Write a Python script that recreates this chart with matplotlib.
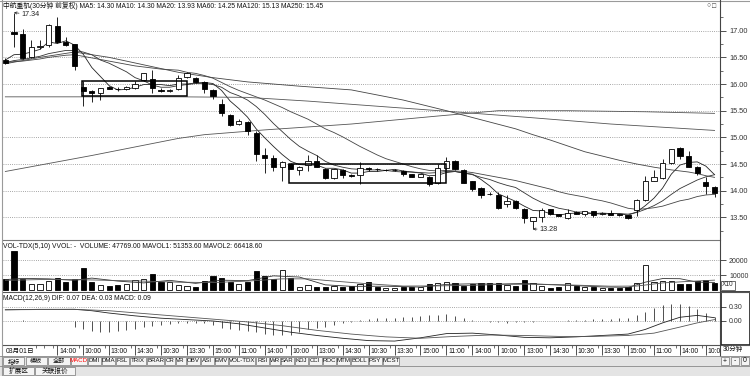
import numpy as np
import matplotlib
matplotlib.use("Agg")
import matplotlib.pyplot as plt
from matplotlib.patches import Rectangle
from matplotlib.lines import Line2D

plt.rcParams["font.family"] = ["Liberation Sans", "Noto Sans CJK SC"]

# ---- 30 minute bars ----
opens = [16.45, 16.97, 16.94, 16.51, 16.70, 16.73, 17.09, 16.79, 16.75, 15.95,
         15.86, 15.83, 15.95, 15.91, 15.91, 15.93, 16.08, 16.09, 15.89, 15.87,
         15.90, 16.14, 16.11, 16.03, 15.89, 15.63, 15.42, 15.25, 15.29, 15.09,
         14.67, 14.61, 14.45, 14.50, 14.39, 14.48, 14.56, 14.40, 14.24, 14.39,
         14.29, 14.30, 14.42, 14.41, 14.38, 14.38, 14.37, 14.31, 14.26, 14.26,
         14.14, 14.42, 14.56, 14.39, 14.18, 14.05, 13.94, 13.92, 13.75, 13.81,
         13.66, 13.44, 13.50, 13.65, 13.56, 13.48, 13.60, 13.57, 13.61, 13.56,
         13.59, 13.56, 13.54, 13.64, 13.83, 14.19, 14.23, 14.51, 14.80, 14.65,
         14.44, 14.17, 14.07]
highs = [16.48, 17.34, 17.03, 16.83, 16.83, 17.12, 17.25, 16.88, 16.76, 16.06,
         15.89, 15.93, 15.97, 15.95, 15.97, 16.05, 16.21, 16.26, 15.92, 15.91,
         16.17, 16.23, 16.13, 16.05, 15.91, 15.71, 15.44, 15.34, 15.31, 15.11,
         14.80, 14.66, 14.56, 14.52, 14.47, 14.66, 14.66, 14.42, 14.41, 14.40,
         14.31, 14.53, 14.44, 14.43, 14.40, 14.40, 14.38, 14.32, 14.32, 14.27,
         14.50, 14.64, 14.57, 14.40, 14.19, 14.06, 13.97, 13.97, 13.92, 13.83,
         13.67, 13.51, 13.68, 13.66, 13.57, 13.66, 13.61, 13.62, 13.62, 13.60,
         13.63, 13.57, 13.55, 13.84, 14.27, 14.39, 14.59, 14.79, 14.81, 14.75,
         14.46, 14.26, 14.08]
lows = [16.37, 16.70, 16.47, 16.48, 16.65, 16.70, 16.77, 16.72, 16.26, 15.58,
        15.67, 15.70, 15.90, 15.87, 15.89, 15.91, 16.05, 15.83, 15.85, 15.85,
        15.88, 16.12, 16.02, 15.83, 15.71, 15.40, 15.21, 15.23, 15.04, 14.56,
        14.34, 14.36, 14.19, 14.40, 14.30, 14.37, 14.44, 14.22, 14.22, 14.23,
        14.26, 14.13, 14.36, 14.37, 14.36, 14.36, 14.28, 14.25, 14.25, 14.08,
        14.12, 14.41, 14.39, 14.14, 14.00, 13.86, 13.92, 13.66, 13.70, 13.66,
        13.39, 13.28, 13.42, 13.55, 13.52, 13.47, 13.56, 13.52, 13.50, 13.54,
        13.54, 13.53, 13.47, 13.52, 13.80, 14.18, 14.22, 14.50, 14.60, 14.44,
        14.30, 13.93, 13.89]
closes = [16.40, 16.93, 16.48, 16.70, 16.72, 17.11, 16.78, 16.73, 16.33, 15.86,
          15.84, 15.92, 15.91, 15.90, 15.95, 16.00, 16.20, 15.92, 15.87, 15.88,
          16.11, 16.20, 16.04, 15.90, 15.78, 15.46, 15.23, 15.31, 15.11, 14.69,
          14.61, 14.45, 14.53, 14.41, 14.45, 14.56, 14.45, 14.24, 14.40, 14.29,
          14.28, 14.42, 14.40, 14.40, 14.38, 14.38, 14.31, 14.26, 14.31, 14.13,
          14.42, 14.56, 14.40, 14.15, 14.03, 13.92, 13.93, 13.67, 13.81, 13.67,
          13.48, 13.51, 13.64, 13.56, 13.53, 13.59, 13.57, 13.61, 13.55, 13.59,
          13.55, 13.55, 13.48, 13.83, 14.19, 14.25, 14.51, 14.78, 14.65, 14.45,
          14.33, 14.09, 13.96]

# moving average lines as drawn
ma5 = [16.45, 16.55, 16.56, 16.60, 16.65, 16.79, 16.76, 16.81, 16.73, 16.56,
       16.31, 16.14, 15.97, 15.89, 15.90, 15.94, 15.99, 15.99, 15.99, 15.97,
       16.00, 16.00, 16.02, 16.03, 16.01, 15.88, 15.68, 15.54, 15.38, 15.16,
       14.99, 14.83, 14.68, 14.55, 14.49, 14.48, 14.48, 14.42, 14.42, 14.39,
       14.33, 14.33, 14.36, 14.36, 14.38, 14.40, 14.37, 14.35, 14.33, 14.28,
       14.29, 14.34, 14.36, 14.33, 14.31, 14.21, 14.09, 13.94, 13.87, 13.80,
       13.71, 13.63, 13.62, 13.57, 13.54, 13.57, 13.58, 13.57, 13.57, 13.58,
       13.57, 13.57, 13.54, 13.60, 13.72, 13.86, 14.05, 14.31, 14.48, 14.53,
       14.54, 14.46, 14.30]
ma10 = [16.40, 16.44, 16.46, 16.49, 16.52, 16.57, 16.60, 16.63, 16.63, 16.60,
        16.55, 16.45, 16.39, 16.31, 16.23, 16.12, 16.06, 15.98, 15.94, 15.94,
        15.97, 15.99, 16.01, 16.01, 15.99, 15.94, 15.84, 15.78, 15.70, 15.58,
        15.43, 15.26, 15.11, 14.96, 14.83, 14.74, 14.66, 14.55, 14.48, 14.44,
        14.41, 14.40, 14.39, 14.39, 14.38, 14.36, 14.35, 14.35, 14.34, 14.33,
        14.34, 14.36, 14.36, 14.33, 14.30, 14.25, 14.21, 14.15, 14.10, 14.06,
        13.96, 13.86, 13.78, 13.72, 13.67, 13.64, 13.60, 13.60, 13.57, 13.56,
        13.57, 13.57, 13.56, 13.59, 13.65, 13.72, 13.81, 13.93, 14.04, 14.12,
        14.20, 14.26, 14.30]
ma20 = [16.40, 16.42, 16.43, 16.45, 16.47, 16.50, 16.52, 16.54, 16.55, 16.52,
        16.49, 16.46, 16.43, 16.40, 16.37, 16.34, 16.32, 16.30, 16.28, 16.27,
        16.26, 16.22, 16.20, 16.16, 16.11, 16.03, 15.95, 15.88, 15.82, 15.76,
        15.70, 15.63, 15.56, 15.48, 15.41, 15.34, 15.25, 15.16, 15.09, 15.01,
        14.92, 14.83, 14.75, 14.67, 14.60, 14.55, 14.50, 14.45, 14.41, 14.38,
        14.37, 14.38, 14.37, 14.36, 14.34, 14.31, 14.28, 14.25, 14.22, 14.19,
        14.15, 14.11, 14.07, 14.03, 13.98, 13.94, 13.91, 13.88, 13.84, 13.81,
        13.77, 13.72, 13.67, 13.65, 13.66, 13.68, 13.71, 13.76, 13.81, 13.84,
        13.89, 13.92, 13.93]
ma60_idx = [0, 4, 8, 12, 16, 20, 24, 28, 34, 40, 46, 51, 55, 59, 61, 63, 65,
            67, 69, 71, 73, 75, 77, 79, 80, 81, 82]
ma60_val = [16.38, 16.50, 16.60, 16.50, 16.36, 16.22, 16.12, 16.04, 15.96,
            15.89, 15.70, 15.50, 15.33, 15.16, 15.05, 14.95, 14.84, 14.73,
            14.65, 14.57, 14.50, 14.44, 14.39, 14.35, 14.32, 14.28, 14.25]
ma120_idx = [0, 10, 20, 28, 35, 45, 51, 60, 70, 82]
ma120_val = [15.76, 15.76, 15.76, 15.75, 15.68, 15.56, 15.49, 15.38, 15.25, 15.13]
ma250_idx = [0, 10, 20, 23, 30, 40, 50, 57, 65, 74, 82]
ma250_val = [14.36, 14.66, 14.98, 15.05, 15.14, 15.25, 15.40, 15.50, 15.50,
             15.48, 15.45]

# volume (hands / 10)
volume = [7333, 26000, 7556, 3778, 3778, 6000, 8222, 5556, 7556, 14444,
          5111, 3333, 2889, 3333, 3778, 6667, 7333, 10444, 5556, 5111,
          3333, 2889, 2222, 6000, 9556, 8222, 5556, 3778, 5556, 12889,
          9556, 7333, 13333, 8222, 2222, 3333, 2222, 2222, 2889, 2222,
          2889, 3778, 5556, 2222, 1556, 1556, 2222, 2222, 2222, 3778,
          4444, 5111, 4444, 2889, 3778, 4444, 4444, 4444, 3333, 2889,
          6667, 4444, 2889, 1556, 2222, 4444, 2889, 2222, 2222, 1556,
          1556, 1556, 2222, 4444, 16667, 5556, 6000, 6000, 3778, 3778,
          6000, 6667, 4777]
mavol1_idx = [0, 2, 5, 8, 10, 13, 16, 19, 22, 25, 28, 31, 34, 37, 40, 44, 48,
              51, 54, 57, 60, 63, 66, 69, 72, 74, 76, 78, 80, 82]
mavol1_val = [7000, 7800, 7500, 6500, 8000, 6000, 4800, 6500, 4500, 6600,
              6300, 9500, 8700, 3500, 2500, 2600, 2000, 3800, 4200, 4000,
              4400, 3600, 3000, 2100, 1800, 5300, 7700, 7600, 5300, 5135]
mavol2_idx = [0, 4, 8, 12, 16, 20, 24, 28, 32, 35, 38, 42, 46, 50, 54, 58, 62,
              66, 70, 73, 76, 79, 82]
mavol2_val = [6500, 7000, 7000, 6500, 6000, 5300, 5000, 6000, 7500, 7500,
              6000, 4200, 2700, 2800, 3200, 3900, 3900, 3300, 2600, 2700,
              4800, 5800, 6642]

# MACD(12,26,9)
dif_idx = [0, 4, 8, 10, 12, 15, 18, 21, 24, 27, 30, 33, 36, 39, 42, 45, 48,
           51, 54, 57, 60, 63, 66, 69, 72, 74, 76, 78, 80, 82]
dif_val = [0.24, 0.25, 0.25, 0.22, 0.17, 0.11, 0.06, 0.03, 0.00, -0.06,
           -0.15, -0.24, -0.31, -0.37, -0.42, -0.43, -0.36, -0.27, -0.26,
           -0.30, -0.35, -0.36, -0.34, -0.31, -0.28, -0.18, -0.04, 0.08,
           0.12, 0.07]
dea_idx = [0, 8, 12, 16, 20, 24, 28, 32, 36, 40, 44, 48, 52, 56, 60, 64, 68,
           72, 75, 78, 80, 82]
dea_val = [0.24, 0.25, 0.22, 0.16, 0.10, 0.04, -0.02, -0.10, -0.20, -0.28,
           -0.34, -0.37, -0.33, -0.30, -0.31, -0.33, -0.33, -0.31, -0.26,
           -0.13, -0.04, 0.03]
macd_bar = [0.01, 0.01, 0.02, 0.01, 0.01, 0.01, 0.00, -0.01, -0.12, -0.17,
            -0.21, -0.24, -0.24, -0.22, -0.19, -0.17, -0.12, -0.10, -0.08, -0.07,
            -0.05, -0.04, -0.04, -0.05, -0.08, -0.14, -0.17, -0.19, -0.21, -0.24,
            -0.27, -0.30, -0.30, -0.29, -0.24, -0.17, -0.15, -0.12, -0.08, -0.05,
            -0.02, 0.02, 0.04, 0.06, 0.07, 0.07, 0.08, 0.08, 0.10, 0.12,
            0.13, 0.14, 0.10, 0.06, 0.03, 0.00, -0.02, -0.03, -0.04, -0.03,
            -0.03, -0.02, -0.01, 0.00, 0.01, 0.02, 0.02, 0.03, 0.04, 0.04,
            0.05, 0.06, 0.06, 0.12, 0.20, 0.28, 0.34, 0.37, 0.36, 0.32,
            0.25, 0.17, 0.09]

# hand drawn boxes on the chart: (x from, x to, low, high)
boxes = [(8.87, 21.0, 15.78, 16.06), (32.8, 50.9, 14.15, 14.50)]

time_label_idx = list(range(6, 82, 3))
time_labels = ["14:00", "10:00", "13:00", "14:30", "10:30", "13:30", "15:00",
               "11:00", "14:00", "10:00", "13:00", "14:30", "10:30", "13:30",
               "15:00", "11:00", "14:00", "10:00", "13:00", "14:30", "10:30",
               "13:30", "15:00", "11:00", "14:00", "10:00"]
buttons = ["指标", "模板", "全部", "MACD", "DMI", "DMA", "FSL", "TRIX", "BRAR",
           "CR", "VR", "OBV", "ASI", "EMV", "VOL-TDX", "RSI", "WR", "SAR",
           "KDJ", "CCI", "ROC", "MTM", "BOLL", "PSY", "MCST"]

W, H = 750, 376
n = len(closes)
xs = np.arange(n)
XL = (-0.27, 82.63)
up = [c >= o for o, c in zip(opens, closes)]

fig = plt.figure(figsize=(7.5, 3.76), dpi=100)
fig.patch.set_facecolor("white")


def px_axes(x0, y0, x1, y1):
    ax = fig.add_axes([x0 / W, 1 - y1 / H, (x1 - x0) / W, (y1 - y0) / H])
    ax.set_xlim(XL)
    for s in ax.spines.values():
        s.set_visible(False)
    ax.set_xticks([])
    ax.patch.set_alpha(0)
    return ax


def ftext(x, y, s, **kw):
    kw.setdefault("fontsize", 5.0)
    kw.setdefault("va", "center")
    return fig.text(x / W, 1 - y / H, s, **kw)


def fline(x0, y0, x1, y1, **kw):
    fig.add_artist(Line2D([x0 / W, x1 / W], [1 - y0 / H, 1 - y1 / H], **kw))


def right_ticks(ax, major, labels, minor=None, size=5.3):
    ax.yaxis.tick_right()
    ax.set_yticks(major)
    ax.set_yticklabels(labels)
    if minor is not None:
        ax.set_yticks(minor, minor=True)
    ax.tick_params(axis="y", which="major", direction="out", length=4,
                   width=0.6, pad=2.5, labelsize=size, colors="#333")
    ax.tick_params(axis="y", which="minor", direction="out", length=2,
                   width=0.5, colors="#333")


grid_kw = dict(color="#8a8a8a", lw=0.6, ls=(0, (1, 1.6)), zorder=0)

# ---- price panel ----
ax = px_axes(3, 0, 720, 240)
ax.set_ylim(13.075, 17.576)
pticks = np.arange(13.5, 17.01, 0.5)
right_ticks(ax, pticks, ["%.2f" % v for v in pticks],
            np.arange(13.25, 17.3, 0.25))
for p in pticks:
    ax.axhline(p, **grid_kw)

ax.plot(xs, ma5, color="#222", lw=0.6, zorder=2)
ax.plot(xs, ma10, color="#333", lw=0.6, zorder=2)
ax.plot(xs, ma20, color="#444", lw=0.6, zorder=2)
ax.plot(ma60_idx, ma60_val, color="#444", lw=0.6, zorder=2)
ax.plot(ma120_idx, ma120_val, color="#555", lw=0.6, zorder=2)
ax.plot(ma250_idx, ma250_val, color="#555", lw=0.6, zorder=2)

bw = 0.6
for i in range(n):
    ax.vlines(i, lows[i], highs[i], color="black", lw=0.6, zorder=3)
    lo, hi = min(opens[i], closes[i]), max(opens[i], closes[i])
    ax.add_patch(Rectangle((i - bw / 2, lo), bw, max(hi - lo, 0.004),
                           facecolor="white" if up[i] else "black",
                           edgecolor="black", lw=0.6, zorder=4))

for x0, x1, lo, hi in boxes:
    ax.add_patch(Rectangle((x0, lo), x1 - x0, hi - lo, fill=False,
                           edgecolor="black", lw=1.1, zorder=5))

ih = int(np.argmax(highs))
ax.annotate("%.2f" % highs[ih], xy=(ih, highs[ih]), xytext=(ih + 0.9, highs[ih] - 0.04),
            fontsize=5.2, va="center", color="#222",
            arrowprops=dict(arrowstyle="->", lw=0.5, color="#222",
                            shrinkA=0, shrinkB=0, mutation_scale=4))
il = int(np.argmin(lows))
ax.annotate("%.2f" % lows[il], xy=(il, lows[il]), xytext=(il + 0.8, lows[il]),
            fontsize=5.2, va="center", color="#222",
            arrowprops=dict(arrowstyle="->", lw=0.5, color="#222",
                            shrinkA=0, shrinkB=0, mutation_scale=4))

ftext(3, 6, "中航重机(30分钟 前复权) MA5: 14.30 MA10: 14.30 MA20: 13.93 "
      "MA60: 14.25 MA120: 15.13 MA250: 15.45", fontsize=4.9, color="#111")
ftext(706, 6, "○", fontsize=5, color="#555")
ftext(712, 6, "□", fontsize=5, color="#333")

# ---- volume panel ----
av = px_axes(3, 240, 720, 291)
av.set_ylim(-600, 33400)
right_ticks(av, [10000, 20000], ["10000", "20000"], size=5.0)
for v in [10000, 20000]:
    av.axhline(v, **grid_kw)
av.bar(xs, volume, width=bw, color=["white" if u else "black" for u in up],
       edgecolor="black", lw=0.6, zorder=3)
av.plot(mavol1_idx, mavol1_val, color="#333", lw=0.6, zorder=4)
av.plot(mavol2_idx, mavol2_val, color="#555", lw=0.6, zorder=4)
ftext(3, 246, "VOL-TDX(5,10) VVOL: -  VOLUME: 47769.00 MAVOL1: 51353.60 "
      "MAVOL2: 66418.60", fontsize=4.9, color="#111")
ftext(722, 285, "X10", fontsize=4.8, color="#333",
      bbox=dict(boxstyle="square,pad=0.15", fc="white", ec="#333", lw=0.5))

# ---- MACD panel ----
am = px_axes(3, 292, 720, 345)
am.set_ylim(-0.514, 0.621)
right_ticks(am, [0.0, 0.3], ["0.00", "0.30"], size=5.0)
for v in [0.0, 0.3]:
    am.axhline(v, **grid_kw)
am.vlines(xs, 0, macd_bar, color="#333", lw=0.6, zorder=3)
am.plot(dif_idx, dif_val, color="#222", lw=0.6, zorder=4)
am.plot(dea_idx, dea_val, color="#555", lw=0.6, zorder=4)
ftext(3, 298, "MACD(12,26,9) DIF: 0.07 DEA: 0.03 MACD: 0.09", fontsize=4.9,
      color="#111")
fig.add_artist(Rectangle((720.5 / W, 1 - 345 / H), 29 / W, 53 / H,
                         transform=fig.transFigure, fill=False,
                         edgecolor="#222", lw=1.2))

# ---- time axis row ----
at = px_axes(3, 345, 720, 356)
at.set_ylim(0, 1)
at.set_yticks([])
covered = set([0.5, 1.5, 2.5])
for i in time_label_idx:
    covered.update([i + 0.5, i + 1.5])
small_ticks = [k + 0.5 for k in range(n) if k + 0.5 not in covered]
at.vlines(small_ticks, 0.72, 1.0, color="#333", lw=0.5)
at.vlines(time_label_idx, 0.05, 1.0, color="#333", lw=0.6)
at.text(0.0, 0.45, "03月01日", fontsize=4.9, va="center", color="#111")
for i, lab in zip(time_label_idx, time_labels):
    at.text(i + 0.2, 0.45, lab, fontsize=4.9, va="center", color="#111",
            clip_on=True)
ftext(723, 350, "30分钟", fontsize=4.7, color="#111")

# ---- window frame lines ----
fline(0, 0.5, 750, 0.5, color="#9a9a9a", lw=0.8)
fline(1.5, 0, 1.5, 376, color="#9a9a9a", lw=0.8)
fline(3, 240, 720, 240, color="#777", lw=0.8)
fline(3, 291.5, 750, 291.5, color="#555", lw=0.8)
fline(3, 345, 750, 345, color="#555", lw=0.8)
fline(720, 0, 720, 356, color="#444", lw=0.8)

# ---- button rows ----
fig.add_artist(Rectangle((0, 0), 1, 20 / H, transform=fig.transFigure,
                         facecolor="#e4e4e4", edgecolor="none", zorder=0))
fline(0, 356, 750, 356, color="#888", lw=0.6)
fline(0, 366, 750, 366, color="#888", lw=0.6)
x = 3
for b in buttons:
    n_cjk = sum(1 for ch in b if ord(ch) > 255)
    w = 3.2 * (len(b) - n_cjk) + 9 * n_cjk + 3.5
    fig.add_artist(Rectangle((x / W, 1 - 365 / H), w / W, 8 / H,
                             transform=fig.transFigure, facecolor="#f4f4f4",
                             edgecolor="#777", lw=0.5))
    ftext(x + w / 2, 361, b, fontsize=4.4, ha="center",
          color="red" if b == "MACD" else "#111")
    x += w + 1
for bx, b in [(721, "+"), (731, "-"), (741, "0")]:
    fig.add_artist(Rectangle((bx / W, 1 - 365 / H), 8 / W, 8 / H,
                             transform=fig.transFigure, facecolor="#f4f4f4",
                             edgecolor="#777", lw=0.5))
    ftext(bx + 4, 361, b, fontsize=5, ha="center", color="#111")
x = 3
for b in ["扩展区", "关联报价"]:
    w = 9 * len(b) + 4
    fig.add_artist(Rectangle((x / W, 1 - 375 / H), w / W, 8 / H,
                             transform=fig.transFigure, facecolor="#f4f4f4",
                             edgecolor="#777", lw=0.5))
    ftext(x + w / 2, 371, b, fontsize=4.8, ha="center", color="#111")
    x += w + 1

fig.savefig("out.png", dpi=100)
